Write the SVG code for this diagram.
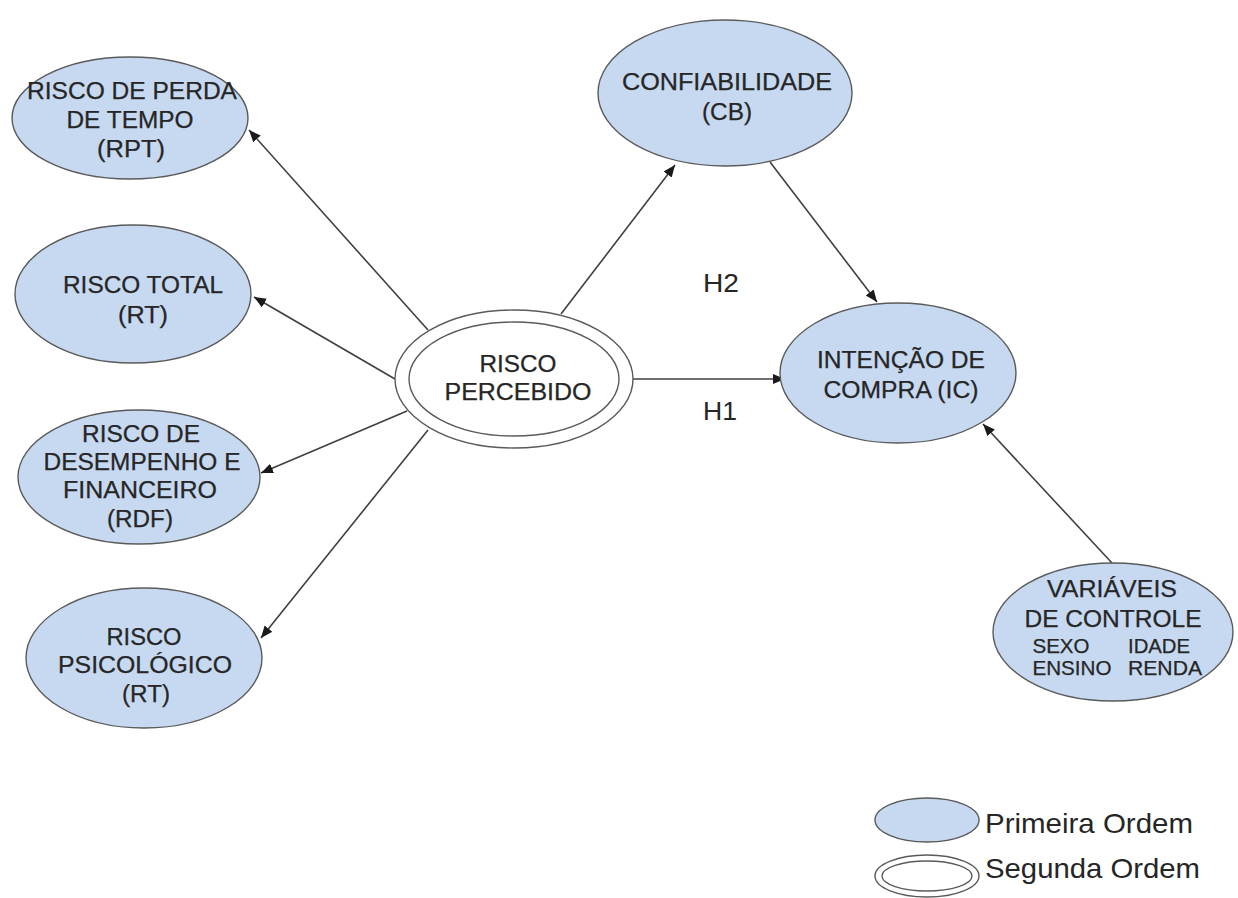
<svg xmlns="http://www.w3.org/2000/svg" width="1238" height="898" viewBox="0 0 1238 898">
<style>
.n{fill:#c6d9f1;stroke:#5a5a5a;stroke-width:1.4}
.w{fill:#ffffff;stroke:#5a5a5a;stroke-width:1.4}
.t{font-family:"Liberation Sans",Arial,sans-serif;font-size:23px;fill:#262626;stroke:#262626;stroke-width:0.25;text-anchor:middle}
.s{font-size:19.5px}
.h{font-family:"Liberation Sans",Arial,sans-serif;font-size:25px;fill:#262626;text-anchor:middle}
.l{font-family:"Liberation Sans",Arial,sans-serif;font-size:28px;fill:#262626}
.c{stroke:#404040;stroke-width:1.6;fill:none;marker-end:url(#ah)}
</style>
<defs>
<marker id="ah" markerUnits="userSpaceOnUse" markerWidth="14" markerHeight="12" refX="12" refY="5" orient="auto">
<path d="M0,0 L12,5 L0,10 Z" fill="#1a1a1a"/>
</marker>
</defs>
<rect width="1238" height="898" fill="#ffffff"/>
<g id="connectors">
<line class="c" x1="428" y1="330" x2="249" y2="130"/>
<line class="c" x1="395" y1="379" x2="254" y2="297"/>
<line class="c" x1="407" y1="411" x2="261" y2="473"/>
<line class="c" x1="428" y1="430" x2="261" y2="638"/>
<line class="c" x1="561" y1="314" x2="675" y2="165"/>
<line class="c" x1="770" y1="162" x2="877" y2="302"/>
<line class="c" x1="633" y1="379" x2="785" y2="379"/>
<line class="c" x1="1112" y1="563" x2="983" y2="424"/>
</g>
<g id="h-labels">
<text class="h" x="721" y="292" textLength="36" lengthAdjust="spacingAndGlyphs">H2</text>
<text class="h" x="720" y="420" textLength="34" lengthAdjust="spacingAndGlyphs">H1</text>
</g>
<g id="rpt">
<ellipse class="n" cx="130" cy="118" rx="118" ry="61"/>
<text class="t" x="132" y="99" textLength="210" lengthAdjust="spacingAndGlyphs">RISCO DE PERDA</text>
<text class="t" x="130" y="128" textLength="127" lengthAdjust="spacingAndGlyphs">DE TEMPO</text>
<text class="t" x="131" y="157" textLength="68" lengthAdjust="spacingAndGlyphs">(RPT)</text>
</g>
<g id="rt">
<ellipse class="n" cx="133" cy="294" rx="118" ry="69"/>
<text class="t" x="143" y="293" textLength="160" lengthAdjust="spacingAndGlyphs">RISCO TOTAL</text>
<text class="t" x="143" y="323" textLength="50" lengthAdjust="spacingAndGlyphs">(RT)</text>
</g>
<g id="rdf">
<ellipse class="n" cx="139" cy="477" rx="121" ry="67"/>
<text class="t" x="141" y="442" textLength="118" lengthAdjust="spacingAndGlyphs">RISCO DE</text>
<text class="t" x="142" y="470" textLength="197" lengthAdjust="spacingAndGlyphs">DESEMPENHO E</text>
<text class="t" x="140" y="498" textLength="154" lengthAdjust="spacingAndGlyphs">FINANCEIRO</text>
<text class="t" x="140" y="527" textLength="66" lengthAdjust="spacingAndGlyphs">(RDF)</text>
</g>
<g id="rps">
<ellipse class="n" cx="144" cy="658" rx="118" ry="70"/>
<text class="t" x="144" y="645" textLength="75" lengthAdjust="spacingAndGlyphs">RISCO</text>
<text class="t" x="145" y="673" textLength="174" lengthAdjust="spacingAndGlyphs">PSICOLÓGICO</text>
<text class="t" x="146" y="702" textLength="48" lengthAdjust="spacingAndGlyphs">(RT)</text>
</g>
<g id="rp">
<ellipse class="w" cx="514" cy="379" rx="119" ry="69"/>
<ellipse class="w" cx="514" cy="379" rx="105" ry="57"/>
<text class="t" x="518" y="372" textLength="77" lengthAdjust="spacingAndGlyphs">RISCO</text>
<text class="t" x="518" y="400" textLength="147" lengthAdjust="spacingAndGlyphs">PERCEBIDO</text>
</g>
<g id="cb">
<ellipse class="n" cx="725" cy="93" rx="127" ry="73"/>
<text class="t" x="727" y="90" textLength="210" lengthAdjust="spacingAndGlyphs">CONFIABILIDADE</text>
<text class="t" x="727" y="120" textLength="50" lengthAdjust="spacingAndGlyphs">(CB)</text>
</g>
<g id="ic">
<ellipse class="n" cx="898" cy="373" rx="118" ry="70"/>
<text class="t" x="901" y="368" textLength="168" lengthAdjust="spacingAndGlyphs">INTENÇÃO DE</text>
<text class="t" x="901" y="398" textLength="155" lengthAdjust="spacingAndGlyphs">COMPRA (IC)</text>
</g>
<g id="vc">
<ellipse class="n" cx="1113" cy="632" rx="120" ry="69"/>
<text class="t" x="1112" y="597" textLength="130" lengthAdjust="spacingAndGlyphs">VARIÁVEIS</text>
<text class="t" x="1113" y="627" textLength="177" lengthAdjust="spacingAndGlyphs">DE CONTROLE</text>
<text class="t s" x="1061" y="653" textLength="57" lengthAdjust="spacingAndGlyphs">SEXO</text>
<text class="t s" x="1159" y="653" textLength="62" lengthAdjust="spacingAndGlyphs">IDADE</text>
<text class="t s" x="1072" y="675" textLength="79" lengthAdjust="spacingAndGlyphs">ENSINO</text>
<text class="t s" x="1165" y="675" textLength="74" lengthAdjust="spacingAndGlyphs">RENDA</text>
</g>
<g id="legend">
<ellipse class="n" cx="927" cy="820" rx="52" ry="22"/>
<text class="l" x="985" y="833" textLength="208" lengthAdjust="spacingAndGlyphs">Primeira Ordem</text>
<ellipse class="w" cx="927" cy="876" rx="52" ry="21"/>
<ellipse class="w" cx="927" cy="876" rx="45" ry="15"/>
<text class="l" x="985" y="878" textLength="215" lengthAdjust="spacingAndGlyphs">Segunda Ordem</text>
</g>
</svg>
